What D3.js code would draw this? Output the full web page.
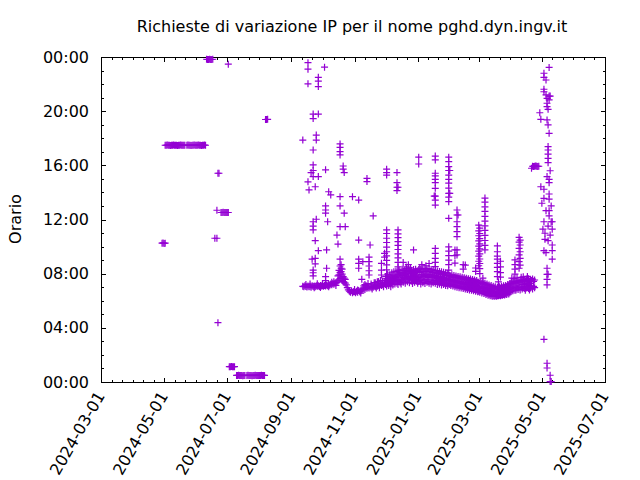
<!DOCTYPE html>
<html>
<head>
<meta charset="utf-8">
<script src="https://cdn.jsdelivr.net/npm/d3@7"></script>
<style>
  body { margin: 0; background: #fff; }
  svg { display: block; font-family: "DejaVu Sans", sans-serif; }
</style>
</head>
<body>
<svg id="chart" width="640" height="480"></svg>
<script>
// Data: each entry is "day time time ..." (times of the IP change requests)

const apr2024 = ["29 10:15", "30 10:16"];
const may2024 = ["1 10:14", "2 10:15 17:29", "3 17:29", "4 17:30", "5 17:29", "6 17:29", "7 17:28",
  "8 17:29", "9 17:29", "10 17:30", "11 17:29", "12 17:29", "13 17:29", "14 17:28", "15 17:29",
  "16 17:29", "17 17:30", "18 17:29", "19 17:29", "20 17:29", "21 17:29", "23 17:29", "24 17:30",
  "25 17:29", "26 17:29", "27 17:28", "28 17:29", "29 17:29", "30 17:30", "31 17:29"];
const jun2024 = ["1 17:29", "2 17:29", "3 17:30", "4 17:29", "5 17:29", "6 17:28", "7 17:29",
  "8 17:29", "9 17:30", "10 17:29", "11 23:50", "12 23:49", "13 23:49", "14 23:50", "15 23:49",
  "16 23:49", "17 23:50", "19 10:37", "21 10:37 12:41", "22 15:25 04:23", "23 15:25",
  "25 12:31", "26 12:31", "27 12:32", "28 12:31", "29 12:31", "30 12:31"];
const jul2024 = ["1 12:31", "2 12:31 23:28", "3 01:08", "4 01:08", "5 01:09", "6 01:08", "7 01:08",
  "8 01:08", "10 00:29", "11 00:29", "12 00:30", "13 00:29", "14 00:29", "15 00:29", "16 00:28",
  "17 00:29", "18 00:29", "20 00:29", "21 00:30", "22 00:29", "23 00:29", "24 00:29", "25 00:28",
  "26 00:29", "27 00:29", "28 00:30", "29 00:29", "30 00:29", "31 00:29"];
const aug2024 = ["1 00:29", "2 00:29", "3 00:30", "4 00:29", "5 00:29", "6 00:29",
  "7 19:23", "8 19:23", "9 19:24"];
const sep2024 = ["12 07:04 17:52", "13 07:02", "14 07:06", "15 07:03 07:12", "16 07:01",
  "17 07:05 23:35 23:06 22:01 14:47", "18 07:02 14:11", "19 07:04 07:14", "20 07:00 15:28",
  "21 07:06 09:04", "22 07:03 19:47 19:27 17:08 16:02 15:37 15:10 11:50 11:31 11:14 08:16 08:04 07:50",
  "23 07:05 06:58", "24 07:02 14:25 10:26 09:08 08:43", "25 07:07 18:14 17:52 12:01", "26 07:04 07:15",
  "27 07:06 22:30 22:13 21:49 19:47 15:10 09:42", "28 07:03", "29 07:08 06:59", "30 07:05"];
const oct2024 = ["1 07:06 07:16", "2 07:04", "3 07:08 23:15", "4 07:05 15:40 13:00 12:42 12:28 07:47 07:29",
  "5 07:10 09:45 08:24", "6 07:07 11:50", "7 07:12 07:02 14:03", "8 07:09", "9 07:14 13:49", "10 07:11 07:22",
  "11 07:16", "12 07:13 07:24", "13 07:18", "14 07:20 07:08", "15 07:22 10:51", "16 07:28 07:50 10:11",
  "17 07:32 07:55 08:15", "18 07:38 08:05 17:35 17:20 17:01 16:46 13:41 13:00 11:28 09:04 08:34",
  "19 07:42 08:24 08:09 08:40", "20 07:30 07:58 08:20", "21 07:25 07:47 15:57 15:43",
  "22 07:22 07:40 15:28 12:28", "23 07:18 07:35 11:28", "24 07:10", "25 06:58", "26 06:48",
  "27 06:42", "28 06:38", "29 06:44", "30 06:36 13:41", "31 06:40"];
const nov2024 = ["1 06:40 06:50", "2 06:36", "3 06:42", "4 06:38 06:48", "5 06:45 13:26 10:29 09:04 08:46 08:24",
  "6 06:40", "7 06:44 06:34", "8 06:48 07:35", "9 06:52 08:53", "10 06:55 07:06", "11 06:50 07:12",
  "12 06:58 07:08", "13 06:55 15:02 14:48", "14 07:00 07:16", "15 06:57 09:13 08:53 08:34 08:13 07:54",
  "16 07:02 10:07", "17 06:58 07:14", "18 07:04 06:52", "19 07:00 12:16", "20 07:06 07:20",
  "21 07:02 07:20", "22 07:08 06:56", "23 07:04 07:24", "24 07:10 07:25", "25 07:06 06:58",
  "26 07:12 07:30", "27 07:08 08:46 08:16 07:54", "28 07:14 07:28", "29 07:10 07:02",
  "30 07:16 09:30 09:13"];
const dec2024 = ["1 07:12 07:30 07:48",
  "2 07:15 07:38 07:05 15:43 15:28 15:17 11:14 10:58 10:37 10:18 09:58 09:37 09:19 08:59 08:39 08:17 07:47",
  "3 07:18 07:35 07:58", "4 07:08 07:42 07:25", "5 07:20 07:33 07:55", "6 07:16 07:45 07:02",
  "7 07:22 07:38 08:04", "8 07:10 07:50 07:30", "9 07:25 07:40 08:08", "10 07:14 07:48 07:34",
  "11 07:28 07:44 08:10", "12 07:18 07:55 07:36 15:28 14:43 14:23 14:08",
  "13 07:30 07:50 07:12 14:23 11:14 10:56 10:40 10:22 10:05 09:47 09:28 09:10 08:50 08:30 08:12",
  "14 07:26 07:58 08:16", "15 07:20 07:46 08:05", "16 07:28 08:02 07:14", "17 07:35 07:52 08:20",
  "18 07:22 08:05 07:44 08:50", "19 07:38 07:55 08:14", "20 07:18 08:08 07:40",
  "21 07:40 07:58 08:22 08:30", "22 07:24 08:10 07:48", "23 07:42 08:00 08:24 08:40",
  "24 07:20 08:12 07:36", "25 07:44 08:02 08:26", "26 07:28 08:15 07:50", "27 07:46 08:05 07:16",
  "28 07:32 08:18 07:56 09:45", "29 07:48 08:08 07:22", "30 07:34 08:20 07:58", "31 07:50 08:10 07:26"];
const jan2025 = ["1 07:40 08:12 07:18", "2 07:44 08:18 07:26 16:36 16:06", "3 07:30 08:06 08:24",
  "4 07:46 08:20 07:14", "5 07:36 08:08 08:40 07:56", "6 07:47 08:22 07:20", "7 07:28 08:10 07:52",
  "8 07:49 08:24 07:16", "9 07:34 08:12 08:35 07:58", "10 07:50 08:20 07:22", "11 07:26 08:08 07:44",
  "12 07:48 08:22 08:45 07:18", "13 07:32 08:10 07:56", "14 07:46 08:18 07:14", "15 07:24 08:06 07:50",
  "16 07:44 08:16 07:20", "17 07:30 08:04 07:52 13:44",
  "18 07:42 08:14 07:18 16:41 16:24 15:25 15:13 14:58 14:43 14:18 13:44 13:26 13:04 09:52 09:30 09:08 08:50 08:31",
  "19 07:28 08:02 07:48", "20 07:40 08:12 07:12", "21 07:24 08:00 07:46", "22 07:38 08:10 07:14",
  "23 07:22 07:58 07:42", "24 07:36 08:08 07:10", "25 07:20 07:56 07:40", "26 07:34 08:06 07:12",
  "27 07:18 07:54 07:38", "28 07:32 08:04 07:08", "29 07:16 07:52 07:36", "30 07:30 08:02 07:06",
  "31 07:14 07:50 07:34 16:36 16:16 15:54 15:37 15:17 14:58 14:41 14:19 13:56 13:39 13:19 12:05 09:59 09:40 09:20 09:00 08:40 08:16"];
const feb2025 = ["1 07:34 07:52 07:12 15:37 13:56", "2 07:08 07:48 07:28", "3 07:32 07:55 07:14",
  "4 07:05 07:45 07:26", "5 07:30 07:52 07:10", "6 07:02 07:44 07:22 09:45 09:20 08:47",
  "7 07:28 07:50 07:08", "8 07:00 07:42 07:20 12:42 12:20 11:50 11:28 11:06 10:44 09:45 09:23",
  "9 07:26 07:48 07:06 12:20", "10 06:58 07:40 07:18", "11 07:24 07:46 07:04", "12 06:56 07:38 07:16",
  "13 07:22 07:44 07:02", "14 06:54 07:36 07:14 08:40 08:20", "15 07:20 07:42 07:00",
  "16 06:52 07:34 07:12 08:38", "17 07:18 07:40 06:58", "18 06:50 07:32 07:10", "19 07:16 07:38 06:56",
  "20 06:48 07:30 07:08", "21 07:14 07:36 06:54", "22 06:46 07:28 07:06", "23 07:12 07:34 06:52",
  "24 06:44 07:26 07:04", "25 07:10 07:32 06:50", "26 06:42 07:24 07:02 08:10 08:25",
  "27 07:08 07:30 06:48", "28 06:40 07:22 07:00"];
const mar2025 = ["1 07:00 07:22 06:42 11:35 11:10 10:48 10:25 10:02 09:40 09:18 08:55 08:35",
  "2 06:56 07:18 06:38 11:22 10:58 10:35 10:12 09:50 09:28 09:05 08:45 08:22 08:00",
  "3 07:02 07:24 06:44", "4 06:34 07:16 06:54", "5 07:00 07:20 06:40 07:40", "6 06:32 07:14 06:52",
  "7 06:58 07:18 06:36 13:35 13:17 12:56 12:36 12:14 11:53 11:32 11:12 10:50 10:27 10:05 09:45",
  "8 06:28 07:10 06:48", "9 06:54 07:14 06:32", "10 06:24 07:06 06:44", "11 06:50 07:10 06:28",
  "12 06:22 07:02 06:40", "13 06:46 07:08 06:24", "14 06:20 06:58 06:36", "15 06:42 07:04 06:22",
  "16 06:20 06:56 06:34", "17 06:40 07:02 06:22", "18 06:20 06:52 06:30",
  "19 06:38 07:00 06:22 10:03 09:37 09:18 09:04 08:46 08:28 08:09 07:47",
  "20 06:22 06:54 07:24 06:36", "21 06:40 07:02 06:24", "22 06:22 06:56 06:38 08:55 08:30 08:05 07:45",
  "23 06:42 07:04 06:26", "24 06:24 06:58 06:40", "25 06:44 07:06 06:28", "26 06:26 07:00 06:42",
  "27 06:46 07:08 06:30", "28 06:28 07:02 06:44", "29 06:48 07:12 06:34", "30 06:30 07:06 06:50",
  "31 06:52 07:16 06:36"];
const apr2025 = ["1 06:55 07:18 06:40", "2 07:00 07:24 07:40", "3 06:44 07:15 06:58", "4 06:58 07:22 07:38",
  "5 06:46 07:20 09:01 08:40 08:20 07:58", "6 07:02 07:26 06:48", "7 06:56 07:18 07:42",
  "8 06:50 07:28 07:06", "9 06:58 07:22 10:41 10:20 09:52 09:23 08:53 08:24",
  "10 06:48 07:30 10:29 10:07 09:37 09:08 08:38", "11 07:00 07:24 07:44", "12 06:52 07:32 07:12",
  "13 07:02 07:26 07:46", "14 06:54 07:34 07:14", "15 07:04 07:28 06:46", "16 06:56 07:36 07:16",
  "17 07:02 07:26 07:48", "18 06:54 07:38 07:14", "19 07:04 07:28 06:48", "20 06:56 07:34 07:16",
  "21 07:06 07:30 15:47", "22 06:52 07:36 15:56", "23 07:04 07:26 15:55", "24 06:58 07:32 15:56",
  "25 15:57", "26 15:56", "27 15:55", "28 15:56", "29 19:53", "30 19:24 14:25"];
const may2025 = ["1 13:12", "2 11:17", "3 22:48 22:30 21:37 21:26 14:14 13:34 11:50 09:42 03:09",
  "4 10:59 10:32", "5 22:18 21:12 12:39 09:33",
  "6 20:57 20:35 20:20 19:21 15:10 08:24 07:57 07:35 07:10 01:23 01:02",
  "7 20:08 18:59 17:23 17:08 16:50 16:31 16:12 11:31 10:26 07:57",
  "8 23:14 21:07 20:50 18:22 14:58 14:43 13:53 13:30 12:39 12:16",
  "9 21:07 15:36 10:51 00:30 00:02", "10 13:00 11:50 00:02", "11 11:50 11:17 10:07 09:42 09:04"];

const months = [["2024-04", apr2024], ["2024-05", may2024], ["2024-06", jun2024], ["2024-07", jul2024],
  ["2024-08", aug2024], ["2024-09", sep2024], ["2024-10", oct2024], ["2024-11", nov2024],
  ["2024-12", dec2024], ["2025-01", jan2025], ["2025-02", feb2025], ["2025-03", mar2025],
  ["2025-04", apr2025], ["2025-05", may2025]];

const xTickDates = ["2024-03-01", "2024-05-01", "2024-07-01", "2024-09-01", "2024-11-01",
  "2025-01-01", "2025-03-01", "2025-05-01", "2025-07-01"];
const yTickHours = [0, 4, 8, 12, 16, 20, 24];

const title = "Richieste di variazione IP per il nome pghd.dyn.ingv.it";
const yTitle = "Orario";

// Build points

const parseDay = d3.utcParse("%Y-%m-%d");
const points = [];
months.forEach(([ym, days]) => {
  days.forEach(entry => {
    const [day, ...times] = entry.split(" ");
    const date = parseDay(ym + "-" + day.padStart(2, "0"));
    times.forEach(t => {
      const [hh, mm] = t.split(":").map(Number);
      points.push({date: date, hour: hh + mm / 60});
    });
  });
});

// Chart

const L = 101, R = 605, T = 57, B = 382;
const svg = d3.select("#chart");
svg.append("rect").attr("width", 640).attr("height", 480).attr("fill", "#fff");

const majorX = xTickDates.map(parseDay);
const x = d3.scaleUtc().domain([majorX[0], majorX[majorX.length - 1]]).range([L, R]);
const y = d3.scaleLinear().domain([0, 24]).range([B, T]);

const minorX = [];
for (let i = 0; i < majorX.length - 1; i++) {
  const a = +majorX[i], b = +majorX[i + 1];
  for (let k = 1; k < 6; k++) minorX.push(new Date(a + (b - a) * k / 6));
}
const minorY = d3.range(0, 25).filter(h => h % 4 != 0);

const fmtDate = d3.utcFormat("%Y-%m-%d");
const fmtHour = h => d3.format("02d")(h % 24) + ":00";

function styleAxis(g) {
  g.select(".domain").remove();
  g.selectAll("line").attr("shape-rendering", "crispEdges");
  g.attr("font-size", 16).attr("font-family", "DejaVu Sans, sans-serif");
  g.selectAll("text").attr("fill", "#000");
}

const MAJ = -4.5, MIN = -2.5;

// bottom
svg.append("g").attr("transform", `translate(0,${B})`)
  .call(d3.axisBottom(x).tickValues(minorX).tickFormat("").tickSizeInner(MIN).tickSizeOuter(0))
  .call(styleAxis);
const gx = svg.append("g").attr("transform", `translate(0,${B})`)
  .call(d3.axisBottom(x).tickValues(majorX).tickFormat(fmtDate).tickSizeInner(MAJ).tickSizeOuter(0))
  .call(styleAxis);
gx.selectAll("text")
  .attr("y", null).attr("dy", "0.35em")
  .attr("text-anchor", "end")
  .attr("transform", "translate(-1,11) rotate(-60)");

// top mirror
svg.append("g").attr("transform", `translate(0,${T})`)
  .call(d3.axisTop(x).tickValues(minorX).tickFormat("").tickSizeInner(MIN).tickSizeOuter(0))
  .call(styleAxis);
svg.append("g").attr("transform", `translate(0,${T})`)
  .call(d3.axisTop(x).tickValues(majorX).tickFormat("").tickSizeInner(MAJ).tickSizeOuter(0))
  .call(styleAxis);

// left
svg.append("g").attr("transform", `translate(${L},0)`)
  .call(d3.axisLeft(y).tickValues(minorY).tickFormat("").tickSizeInner(MIN).tickSizeOuter(0))
  .call(styleAxis);
svg.append("g").attr("transform", `translate(${L},0)`)
  .call(d3.axisLeft(y).tickValues(yTickHours).tickFormat(fmtHour).tickSizeInner(MAJ).tickSizeOuter(0).tickPadding(12))
  .call(styleAxis);

// right mirror
svg.append("g").attr("transform", `translate(${R},0)`)
  .call(d3.axisRight(y).tickValues(minorY).tickFormat("").tickSizeInner(MIN).tickSizeOuter(0))
  .call(styleAxis);
svg.append("g").attr("transform", `translate(${R},0)`)
  .call(d3.axisRight(y).tickValues(yTickHours).tickFormat("").tickSizeInner(MAJ).tickSizeOuter(0))
  .call(styleAxis);

// frame
svg.append("rect")
  .attr("x", L).attr("y", T).attr("width", R - L).attr("height", B - T)
  .attr("fill", "none").attr("stroke", "#000").attr("stroke-width", 1)
  .attr("shape-rendering", "crispEdges");

// points (gnuplot style "+")
const s = 3.5;
svg.append("g")
  .attr("stroke", "#9400d3").attr("stroke-width", 1.2).attr("fill", "none")
  .selectAll("path").data(points).join("path")
  .attr("d", d => {
    const cx = x(d.date), cy = y(d.hour);
    return `M${cx - s},${cy}H${cx + s}M${cx},${cy - s}V${cy + s}`;
  });

// texts
svg.append("text")
  .attr("x", 352).attr("y", 32).attr("text-anchor", "middle")
  .attr("font-size", 16).text(title);

svg.append("text")
  .attr("transform", "translate(21,219) rotate(-90)")
  .attr("text-anchor", "middle").attr("font-size", 16).text(yTitle);
</script>
</body>
</html>
